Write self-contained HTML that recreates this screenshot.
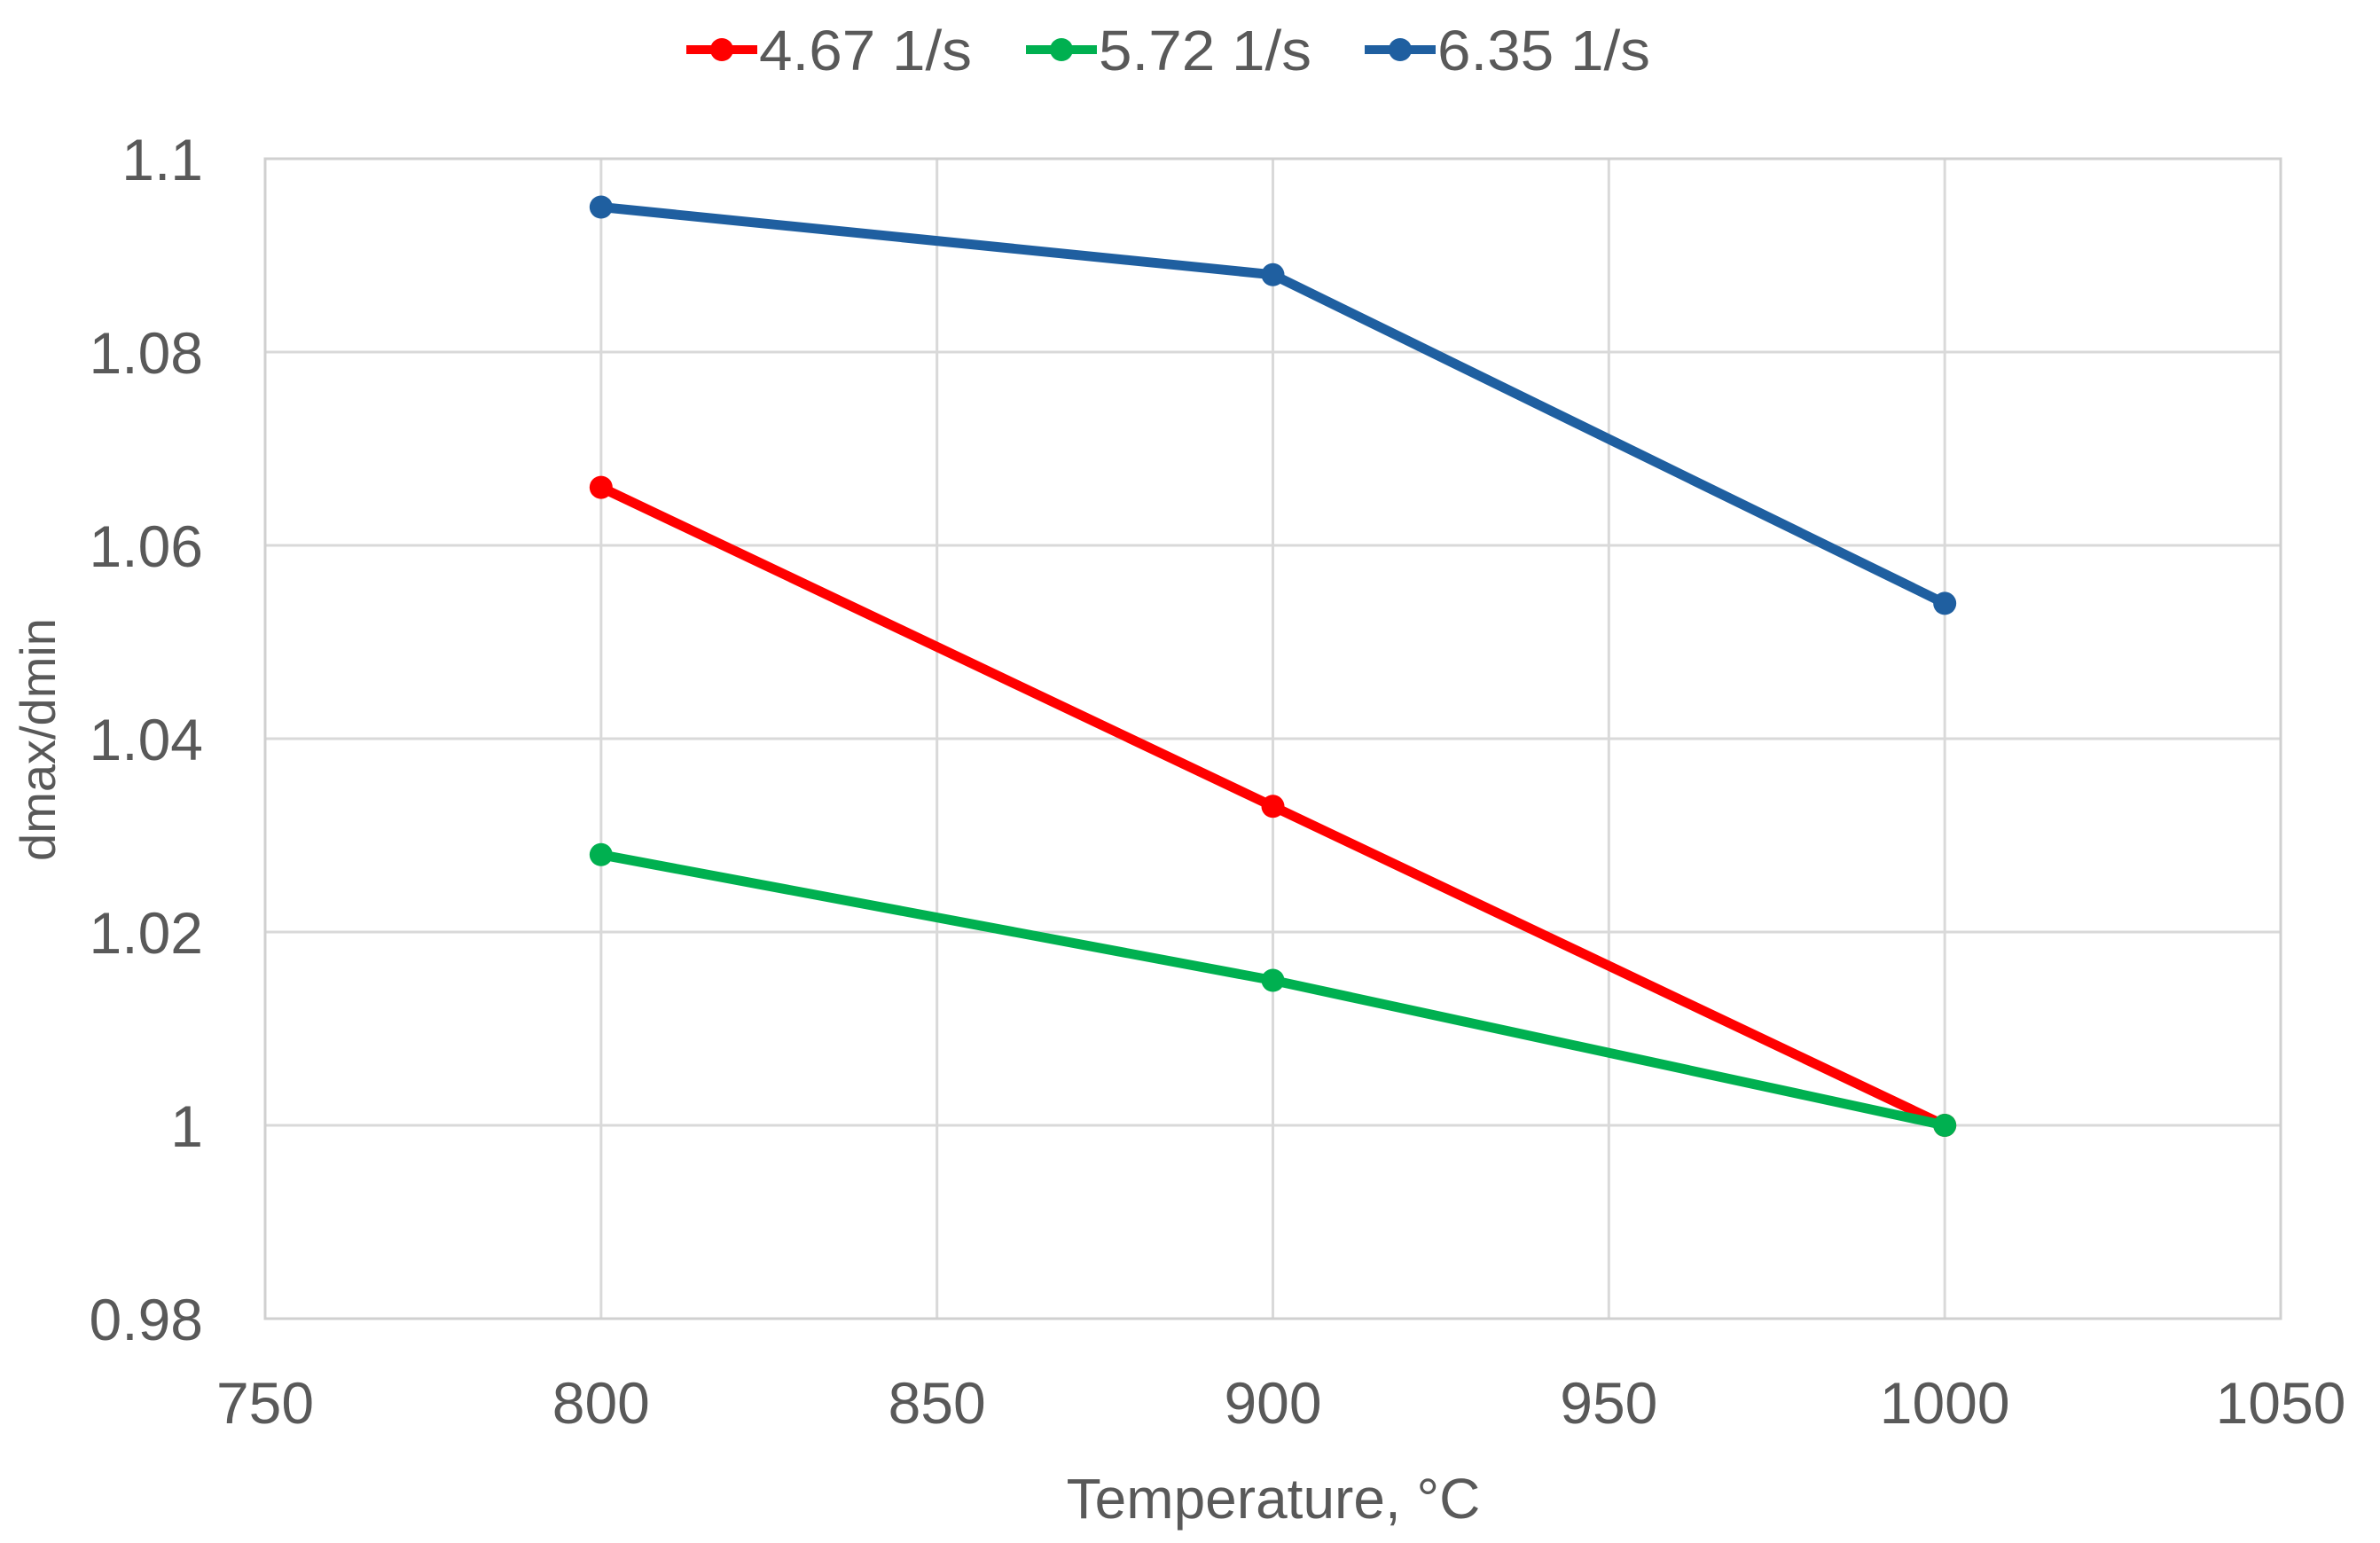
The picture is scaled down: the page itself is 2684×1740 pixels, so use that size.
<!DOCTYPE html>
<html><head><meta charset="utf-8"><style>
html,body{margin:0;padding:0;background:#fff;}
svg{display:block;font-family:"Liberation Sans",Arial,sans-serif;}
</style></head><body>
<svg id="chart" width="2684" height="1740" viewBox="0 0 2684 1740" xmlns="http://www.w3.org/2000/svg">
<rect x="0" y="0" width="2684" height="1740" fill="#fff"/>
<g id="grid"></g>
<g id="axes"></g>
<g id="series"></g>
<g id="legend"></g>
<text x="1436" y="1712" text-anchor="middle" font-size="64" fill="#595959">Temperature, °C</text>
<text transform="translate(62,834) rotate(-90)" text-anchor="middle" font-size="56" fill="#595959">dmax/dmin</text>
</svg>
<script>
const xCategories = [800, 900, 1000];
const seriesNames = ["4.67 1/s", "5.72 1/s", "6.35 1/s"];
const seriesRed = [1.066, 1.033, 1.000];
const seriesGreen = [1.028, 1.015, 1.000];
const seriesBlue = [1.095, 1.088, 1.054];
const xTicks = [750, 800, 850, 900, 950, 1000, 1050];
const yTicks = [0.98, 1, 1.02, 1.04, 1.06, 1.08, 1.1];

const NS = "http://www.w3.org/2000/svg";
const L = 299, R = 2572, T = 179, B = 1487;
const xMin = 750, xMax = 1050, yMin = 0.98, yMax = 1.1;
function xs(v){ return L + (v - xMin) / (xMax - xMin) * (R - L); }
function ys(v){ return B - (v - yMin) / (yMax - yMin) * (B - T); }
function mk(tag, attrs, parent){
  const e = document.createElementNS(NS, tag);
  for (const k in attrs) e.setAttribute(k, attrs[k]);
  parent.appendChild(e);
  return e;
}
const grid = document.getElementById('grid');
const axes = document.getElementById('axes');
const seriesG = document.getElementById('series');
const legend = document.getElementById('legend');

xTicks.forEach(t => {
  const ln = mk('line', {x1: xs(t), x2: xs(t), y1: T, y2: B, stroke: '#d9d9d9', 'stroke-width': 3}, grid);
  
  
  const tx = mk('text', {x: xs(t), y: 1605, 'text-anchor': 'middle', 'font-size': 66, fill: '#595959'}, axes);
  tx.textContent = String(t);
  
  
});
yTicks.forEach(t => {
  const ln = mk('line', {x1: L, x2: R, y1: ys(t), y2: ys(t), stroke: '#d9d9d9', 'stroke-width': 3}, grid);
  
  
  const tx = mk('text', {x: 229, y: ys(t) + 24, 'text-anchor': 'end', 'font-size': 66, fill: '#595959'}, axes);
  tx.textContent = String(t);
  
  
});
const frame = mk('rect', {x: L, y: T, width: R - L, height: B - T, fill: 'none', stroke: '#d0d0d0', 'stroke-width': 3}, grid);



const allSeries = [
  {vals: seriesRed, color: '#ff0000', key: 'red'},
  {vals: seriesGreen, color: '#00b050', key: 'green'},
  {vals: seriesBlue, color: '#1f5fa0', key: 'blue'}
];
allSeries.forEach((s, i) => {
  const pts = s.vals.map((v, j) => xs(xCategories[j]) + ',' + ys(v)).join(' ');
  const pl = mk('polyline', {points: pts, fill: 'none', stroke: s.color, 'stroke-width': 11, 'stroke-linejoin': 'round'}, seriesG);
  
  
  s.vals.forEach((v, j) => {
    const c = mk('circle', {cx: xs(xCategories[j]), cy: ys(v), r: 13, fill: s.color}, seriesG);
    
    
  });
});

const legendX = [774, 1157, 1539];
allSeries.forEach((s, i) => {
  const g = mk('g', {}, legend);
  
  
  const x0 = legendX[i];
  mk('line', {x1: x0, x2: x0 + 80, y1: 56, y2: 56, stroke: s.color, 'stroke-width': 10}, g);
  mk('circle', {cx: x0 + 40, cy: 56, r: 13, fill: s.color}, g);
  const tx = mk('text', {x: x0 + 82, y: 79, 'font-size': 64, fill: '#595959', textLength: 240, lengthAdjust: 'spacingAndGlyphs'}, g);
  tx.textContent = seriesNames[i];
});
</script>
</body></html>
